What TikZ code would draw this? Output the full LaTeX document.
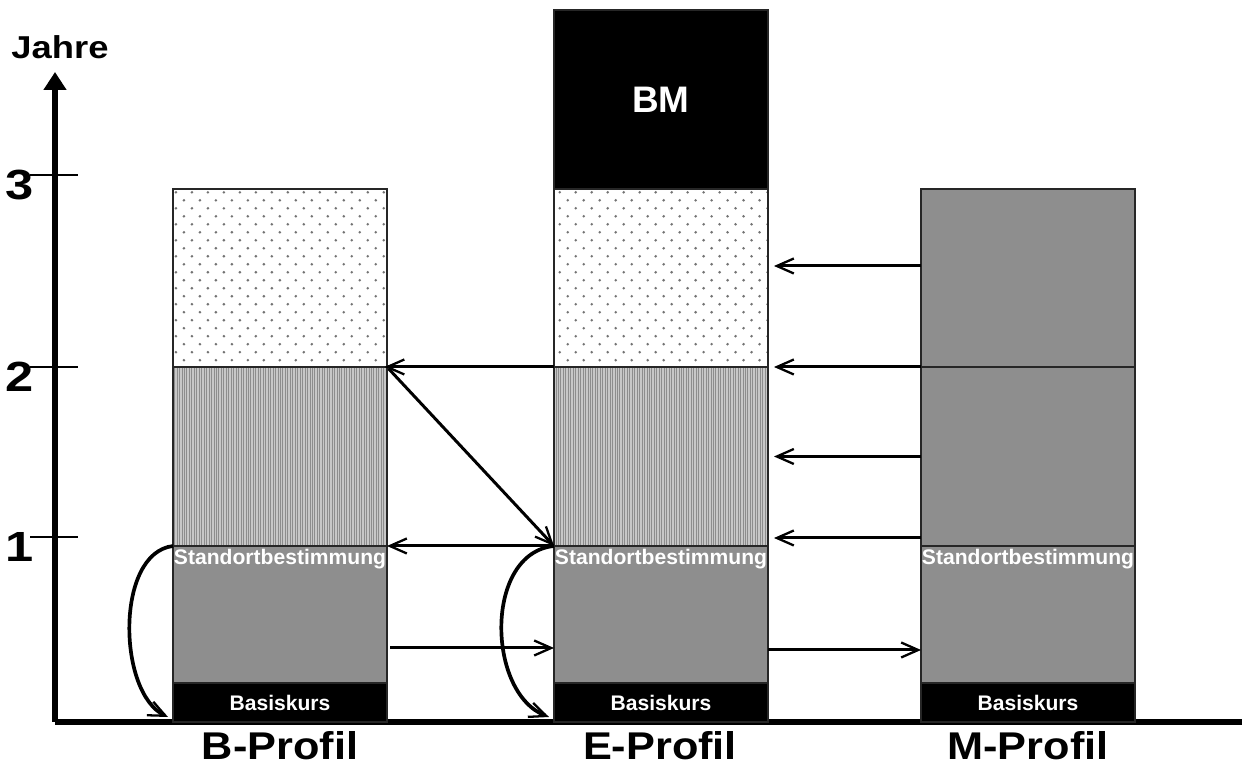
\documentclass[tikz,border=0pt]{standalone}
\usepackage{fontspec}
\setmainfont{Liberation Sans}
\usetikzlibrary{arrows.meta,patterns,patterns.meta}
\definecolor{balkengrau}{RGB}{142,142,142}
\pgfdeclarepatternformonly{hexdots}{\pgfqpoint{-1pt}{-1pt}}{\pgfqpoint{8.1pt}{8.1pt}}{\pgfqpoint{9.1pt}{9.1pt}}{%
  \pgfpathcircle{\pgfqpoint{0pt}{0pt}}{0.8pt}%
  \pgfpathcircle{\pgfqpoint{4.55pt}{4.55pt}}{0.8pt}%
  \pgfusepath{fill}}
\tikzset{
  seg/.style={draw=black!85, line width=0.7pt, minimum width=4.28cm, inner sep=0pt, outer sep=0pt,
    anchor=south west, text=white, font=\bfseries\fontsize{12}{12}\selectfont},
  basis/.style={seg, fill=black, minimum height=0.78cm},
  grau/.style={seg, fill=balkengrau, minimum height=2.74cm},
  streifen/.style={seg, minimum height=3.58cm, preaction={fill=black!22},
    pattern={Lines[angle=90,distance=1.4pt,line width=0.55pt]}, pattern color=black!45},
  punkte/.style={seg, minimum height=3.56cm, pattern=hexdots, pattern color=black!55},
  standort/.style={anchor=north, inner sep=1.5pt, text=white, font=\bfseries\fontsize{12}{12}\selectfont},
  profil/.style={inner sep=0pt, font=\bfseries\fontsize{22}{22}\selectfont, xscale=1.12, transform shape},
  zahl/.style={font=\bfseries\fontsize{24}{24}\selectfont, xscale=1.2, transform shape},
  pfeil/.style={line width=1.7pt, -{Straight Barb[length=0.34cm,width=0.3cm,line width=1.3pt]}},
}

\begin{document}
\begin{tikzpicture}
\useasboundingbox (0,0) rectangle (24.84,15.36);
% Achsen
\coordinate (o) at (1.10,0.92);
\coordinate (oben) at (1.10,13.92);
\coordinate (rechts) at (24.84,0.92);
\draw[line width=3.4pt, -{Triangle[length=0.36cm,width=0.44cm]}] (o) -- (oben);
\draw[line width=3pt] (o) -- (rechts);
\node[font=\bfseries\fontsize{18}{18}\selectfont, xscale=1.15, transform shape] (jahre) at (1.20,14.42) {Jahre};
\foreach \y/\n in {11.86/3, 8.02/2, 4.62/1}{
  \draw[line width=0.9pt] (0.60,\y) -- (1.56,\y);
  \node[zahl] (z\n) at (0.40,\y-0.2) {\n};
}

% B-Profil
\node[basis] (Bbasis) at (3.46,0.92) {Basiskurs};
\node[grau] (Bgrau) at (Bbasis.north west) {};
\node[streifen] (Bstreifen) at (Bgrau.north west) {};
\node[punkte] (Bpunkte) at (Bstreifen.north west) {};
\node[standort] (Bstandort) at (Bgrau.north) {Standortbestimmung};

% E-Profil
\node[basis] (Ebasis) at (11.08,0.92) {Basiskurs};
\node[grau] (Egrau) at (Ebasis.north west) {};
\node[streifen] (Estreifen) at (Egrau.north west) {};
\node[punkte] (Epunkte) at (Estreifen.north west) {};
\node[seg, fill=black, minimum height=3.58cm, font=\bfseries\fontsize{21}{21}\selectfont] (Ebm) at (Epunkte.north west) {BM};
\node[standort] (Estandort) at (Egrau.north) {Standortbestimmung};

% M-Profil
\node[basis] (Mbasis) at (18.42,0.92) {Basiskurs};
\node[grau] (Mgrau) at (Mbasis.north west) {};
\node[grau, minimum height=3.58cm] (Mmitte) at (Mgrau.north west) {};
\node[grau, minimum height=3.56cm] (Moben) at (Mmitte.north west) {};
\node[standort] (Mstandort) at (Mgrau.north) {Standortbestimmung};

\node[profil] (Bprofil) at (5.60,0.44) {B-Profil};
\node[profil] (Eprofil) at (13.20,0.44) {E-Profil};
\node[profil] (Mprofil) at (20.56,0.44) {M-Profil};

% Pfeile
\draw[pfeil, shorten >=0.12cm] ([yshift=0.24cm]Moben.west) -- ([yshift=0.24cm]Epunkte.east);
\draw[pfeil, shorten >=0.12cm] (Moben.south west) -- (Epunkte.south east);
\draw[pfeil, shorten >=0.12cm] (Mmitte.west) -- (Estreifen.east);
\draw[pfeil, shorten >=0.12cm] ([yshift=0.16cm]Mmitte.south west) -- ([yshift=0.16cm]Estreifen.south east);
\draw[pfeil, shorten >=-0.05cm] (Estreifen.north west) -- (Bstreifen.north east);
\draw[pfeil, shorten <=0.05cm] (Bstreifen.north east) -- (Estreifen.south west);
\draw[pfeil] (Estreifen.south west) -- (Bstreifen.south east);
\draw[pfeil, shorten <=0.06cm] ([yshift=0.70cm]Bgrau.south east) -- ([yshift=0.70cm]Egrau.south west);
\draw[pfeil] ([yshift=0.66cm]Egrau.south east) -- ([yshift=0.66cm]Mgrau.south west);
\draw[pfeil, line width=2.1pt] (Bgrau.north west) .. controls +(-1.16,-0.14) and +(-1.01,0.48) .. ([xshift=-0.1cm,yshift=0.1cm]Bbasis.south west);
\draw[pfeil, line width=2.1pt] (Egrau.north west) .. controls +(-1.40,-0.14) and +(-1.25,0.48) .. ([xshift=-0.1cm,yshift=0.1cm]Ebasis.south west);
\end{tikzpicture}
\end{document}
